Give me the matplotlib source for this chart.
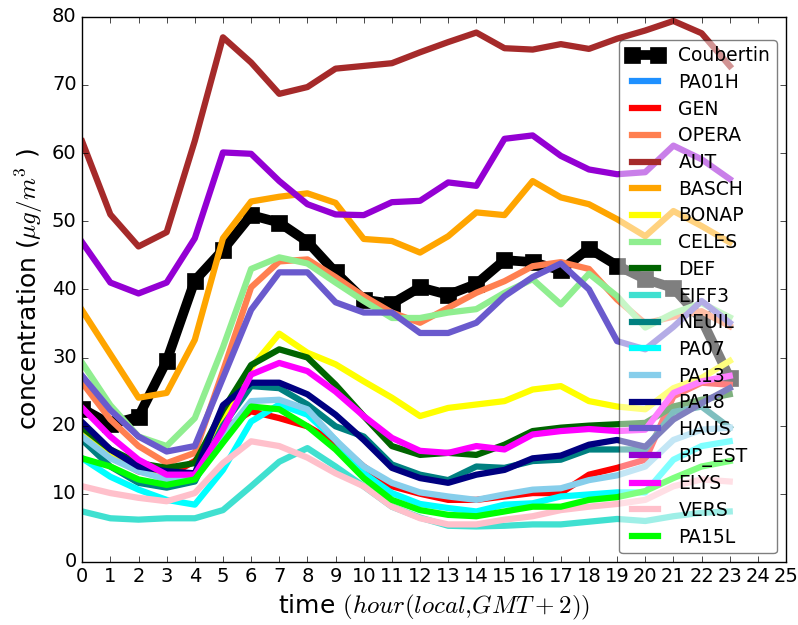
import matplotlib
matplotlib.use('Agg')
import matplotlib.pyplot as plt
import numpy as np

plt.style.use('classic')

hours = list(range(24))

# hourly mean concentrations (ug/m3) per station
coubertin = [22.5, 20.2, 21.3, 29.5, 41.3, 45.8, 50.9, 49.8, 47.0, 42.5, 38.5, 37.9,
             40.3, 39.2, 40.8, 44.3, 44.0, 42.8, 46.0, 43.5, 41.5, 40.2, 35.6, 27.0]
pa01h = []
gen = [18.5, 15.5, 13.3, 12.5, 14.8, 19.5, 22.1, 21.1, 19.9, 17.5, 14.0, 11.1,
       10.0, 9.1, 9.1, 9.6, 10.1, 10.1, 12.8, 13.8, 15.0, 24.3, 26.3, 26.0]
opera = [26.3, 20.9, 17.0, 14.5, 16.0, 28.0, 40.3, 44.1, 44.4, 41.8, 39.0, 36.6,
         35.1, 37.3, 39.5, 41.2, 43.4, 44.0, 43.0, 38.5, 35.0, 36.0, 36.8, 34.6]
aut = [61.7, 51.0, 46.3, 48.4, 61.8, 77.0, 73.3, 68.7, 69.7, 72.4, 72.8, 73.2,
       74.8, 76.3, 77.7, 75.4, 75.2, 76.0, 75.3, 76.8, 78.0, 79.4, 77.6, 72.8]
basch = [36.9, 30.5, 24.1, 24.8, 32.6, 47.5, 52.9, 53.6, 54.1, 52.7, 47.4, 47.1,
         45.4, 47.8, 51.3, 50.9, 55.9, 53.5, 52.5, 50.3, 47.8, 51.5, 49.3, 46.9]
bonap = [19.0, 15.5, 13.5, 12.5, 13.0, 21.0, 28.5, 33.5, 30.7, 29.0, 26.5, 24.1,
         21.4, 22.6, 23.1, 23.6, 25.3, 25.8, 23.6, 22.8, 22.4, 25.5, 27.0, 29.5]
celes = [29.2, 23.0, 18.4, 17.0, 21.1, 31.5, 43.0, 44.7, 43.8, 41.0, 38.3, 35.8,
         35.8, 36.6, 37.1, 39.5, 41.5, 37.8, 42.3, 39.0, 34.4, 36.5, 38.0, 35.9]
defense = [19.7, 16.5, 14.5, 13.8, 14.5, 22.3, 28.9, 31.2, 30.0, 26.0, 21.4, 17.0,
           15.7, 16.0, 15.7, 17.2, 19.2, 19.7, 20.0, 20.2, 20.4, 22.8, 23.8, 24.6]
eiff3 = [7.4, 6.4, 6.2, 6.4, 6.4, 7.6, 11.1, 14.7, 16.7, 14.0, 11.1, 8.1,
         6.5, 5.3, 5.2, 5.3, 5.5, 5.5, 5.9, 6.3, 6.0, 6.7, 7.2, 7.4]
neuil = [17.9, 14.0, 11.6, 10.9, 11.8, 20.0, 25.8, 25.5, 23.1, 19.9, 18.4, 14.3,
         12.8, 12.0, 14.0, 13.8, 14.8, 15.0, 16.5, 16.5, 16.5, 22.0, 22.8, 19.7]
pa07 = [15.2, 12.5, 10.6, 9.1, 8.4, 13.5, 20.6, 23.1, 21.6, 17.9, 13.0, 10.1,
        8.5, 7.9, 7.4, 8.4, 8.6, 9.6, 9.9, 10.2, 10.2, 15.0, 17.0, 17.7]
pa13 = [18.4, 15.2, 13.3, 12.1, 12.6, 18.5, 23.6, 23.8, 22.4, 17.9, 14.0, 11.6,
        10.2, 9.6, 9.1, 9.9, 10.6, 10.8, 12.0, 12.7, 14.0, 17.9, 19.4, 19.7]
pa18 = [20.5, 16.5, 14.0, 13.3, 13.0, 23.0, 26.3, 26.3, 24.6, 21.6, 17.9, 13.8,
        12.3, 11.6, 12.8, 13.5, 15.2, 15.6, 17.2, 17.9, 16.9, 20.9, 23.3, 25.5]
haus = [27.3, 22.3, 18.4, 16.2, 17.0, 27.0, 37.0, 42.5, 42.5, 38.1, 36.6, 36.6,
        33.6, 33.6, 35.1, 39.0, 41.8, 43.8, 40.0, 32.4, 31.2, 34.5, 38.3, 35.1]
bp_est = [46.9, 41.0, 39.4, 41.0, 47.5, 60.1, 59.9, 55.9, 52.5, 51.0, 50.9, 52.8,
          53.0, 55.7, 55.2, 62.1, 62.6, 59.6, 57.6, 56.9, 57.2, 61.1, 59.1, 56.2]
elys = [22.6, 18.4, 15.0, 12.8, 12.8, 19.4, 27.5, 29.2, 28.0, 25.0, 21.4, 18.2,
        16.3, 16.0, 17.0, 16.5, 18.7, 19.2, 19.5, 19.2, 19.4, 24.8, 26.5, 27.3]
vers = [11.1, 10.1, 9.4, 8.9, 10.1, 14.5, 17.7, 17.0, 15.3, 13.0, 11.1, 8.1,
        6.4, 5.5, 5.5, 6.2, 6.7, 7.6, 8.1, 8.5, 9.1, 11.1, 12.1, 11.8]
pa15l = [15.2, 14.0, 12.1, 11.3, 12.1, 17.5, 22.8, 22.4, 19.9, 16.5, 12.3, 9.1,
         7.6, 6.9, 6.7, 7.4, 8.1, 8.1, 9.1, 9.5, 10.4, 12.3, 14.0, 14.8]

stations = [('PA01H', pa01h, 'dodgerblue'), ('GEN', gen, 'red'), ('OPERA', opera, 'coral'),
            ('AUT', aut, 'brown'), ('BASCH', basch, 'orange'), ('BONAP', bonap, 'yellow'),
            ('CELES', celes, 'lightgreen'), ('DEF', defense, 'darkgreen'),
            ('EIFF3', eiff3, 'turquoise'), ('NEUIL', neuil, 'teal'), ('PA07', pa07, 'cyan'),
            ('PA13', pa13, 'skyblue'), ('PA18', pa18, 'navy'), ('HAUS', haus, 'slateblue'),
            ('BP_EST', bp_est, 'darkviolet'), ('ELYS', elys, 'magenta'),
            ('VERS', vers, 'pink'), ('PA15L', pa15l, 'lime')]

fig = plt.figure(figsize=(7.98, 6.25), dpi=100, facecolor='white')
ax = fig.add_subplot(111)
fig.subplots_adjust(left=0.103, right=0.985, top=0.973, bottom=0.101)

ax.plot(hours, coubertin, color='black', lw=7, marker='s', markersize=11,
        markeredgecolor='black', label='Coubertin')
for name, vals, col in stations:
    ax.plot(hours[:len(vals)], vals, color=col, lw=4.5, label=name)

ax.set_xlim(0, 25)
ax.set_ylim(0, 80)
ax.set_xticks(range(0, 26))
ax.set_yticks(range(0, 81, 10))
ax.tick_params(labelsize=14)
ax.set_xlabel(r'time $(hour(local{,}GMT+2))$', fontsize=18)
ax.set_ylabel(r'concentration ($\mu g/m^3$ )', fontsize=18)

leg = ax.legend(loc='upper right', bbox_to_anchor=(0.987, 0.958), borderaxespad=0,
                fontsize=13.5, fancybox=True, framealpha=0.5, labelspacing=0.41,
                handlelength=2.0, numpoints=2, borderpad=0.35)

plt.savefig('out.png', dpi=100, facecolor='white')
